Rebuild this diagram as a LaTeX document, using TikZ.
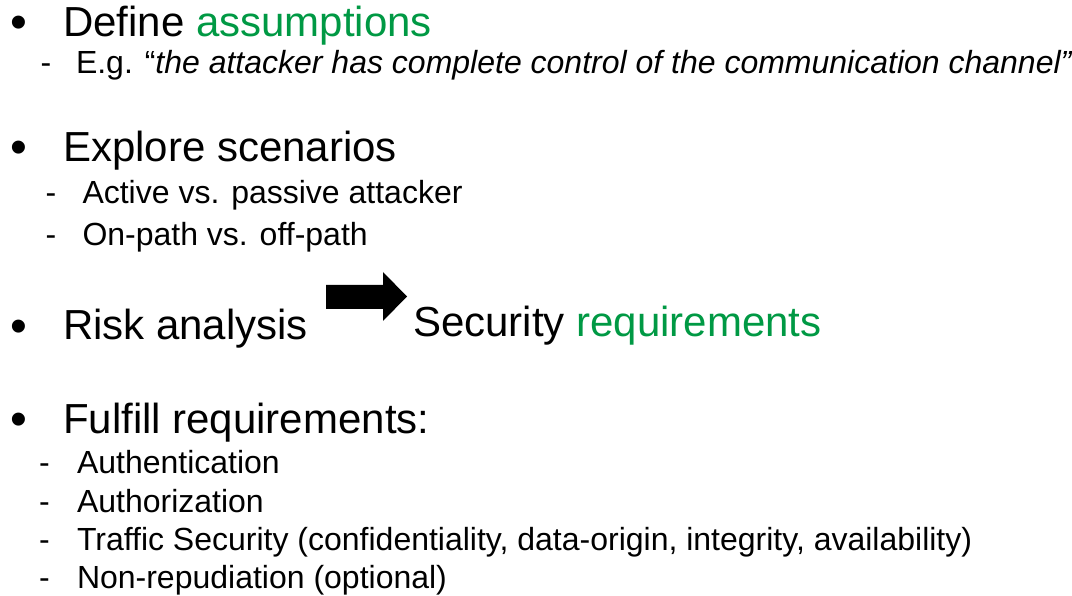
\documentclass[tikz,border=0pt]{standalone}
\usepackage{fontspec}
\setmainfont{Liberation Sans}
\definecolor{kwgreen}{RGB}{0,153,68}
\begin{document}
\begin{tikzpicture}[x=1pt,y=-1pt,
  every node/.style={anchor=base west,inner sep=0pt,outer sep=0pt},
  big/.style={font=\fontsize{42}{50}\selectfont},
  bul/.style={font=\fontsize{48}{50}\selectfont},
  small/.style={font=\fontsize{32}{38}\selectfont},
  hl/.style={text=kwgreen}]
\useasboundingbox[fill=white] (0,0) rectangle (1072,596);
% section 1
\node[bul] (b1) at (10,39) {•};
\node[big] (t1) at (63,37) {Define \textcolor{kwgreen}{assumptions}};
\node[small] (d1) at (40.6,74) {-};
\node[small] (s11) at (76,74) {E.g. “\textit{the attacker has complete control of the communication channel”}};
% section 2
\node[bul] (b2) at (10,164) {•};
\node[big] (t2) at (63,162) {Explore scenarios};
\node[small] (d21) at (45.6,204) {-};
\node[small] (s21) at (82.5,204) {Active vs. passive attacker};
\node[small] (d22) at (45.6,246) {-};
\node[small] (s22) at (82.5,246) {On-path vs. off-path};
% section 3
\node[bul] (b3) at (10,342) {•};
\node[big] (t3) at (63,340) {Risk analysis};
\fill (326,285) -- (383,285) -- (383,272) -- (407,296.5) -- (383,321) -- (383,309) -- (326,309) -- cycle;
\node[big] (t3b) at (413,337) {Security \textcolor{kwgreen}{requirements}};
% section 4
\node[bul] (b4) at (10,435) {•};
\node[big] (t4) at (63,433) {Fulfill requirements:};
\node[small] (d41) at (39,473.5) {-};
\node[small] (s41) at (77,473.5) {Authentication};
\node[small] (d42) at (39,512) {-};
\node[small] (s42) at (77,512) {Authorization};
\node[small] (d43) at (39,550) {-};
\node[small] (s43) at (77,550) {Traffic Security (confidentiality, data-origin, integrity, availability)};
\node[small] (d44) at (39,588) {-};
\node[small] (s44) at (77,588) {Non-repudiation (optional)};
\end{tikzpicture}
\end{document}
